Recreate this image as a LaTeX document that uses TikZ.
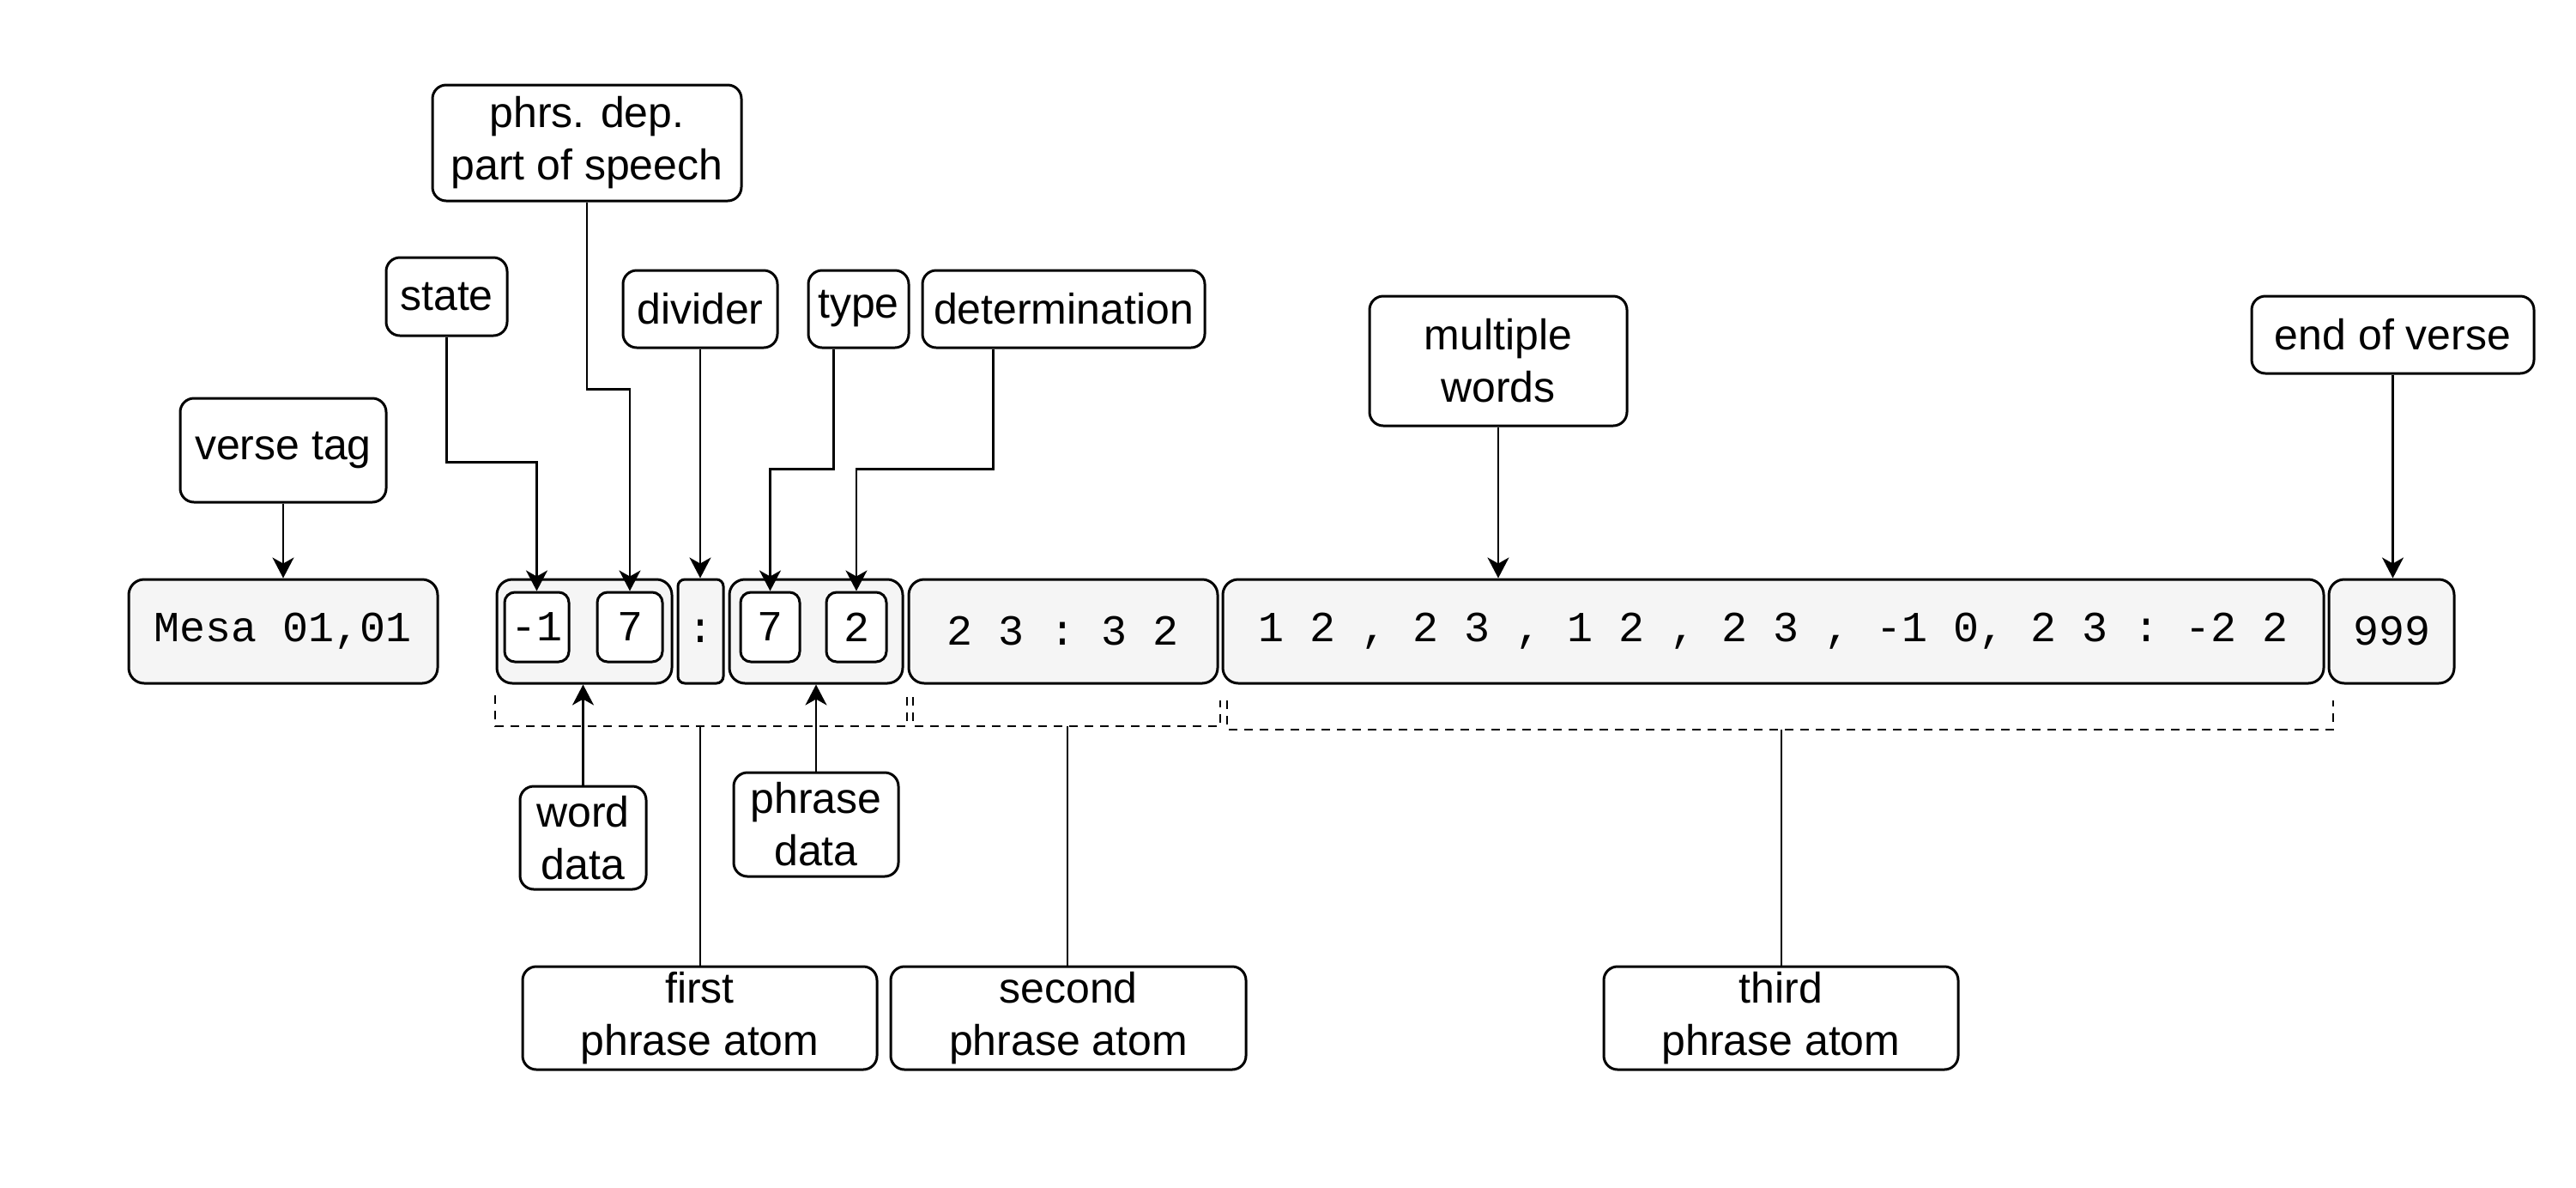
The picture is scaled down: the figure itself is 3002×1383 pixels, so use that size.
\documentclass[tikz,border=0pt]{standalone}
\usepackage{fontspec}
\setmainfont{Liberation Sans}
\setmonofont{Liberation Mono}
\usetikzlibrary{arrows.meta}
\definecolor{boxgray}{HTML}{F5F5F5}
\begin{document}
\begin{tikzpicture}[x=0.5pt,y=-0.5pt,
  lbl/.style={draw, line width=1.5pt, rounded corners=8pt, fill=white, inner sep=0pt, align=center, font=\fontsize{25}{30.5}\selectfont},
  data/.style={draw, line width=1.5pt, rounded corners=9pt, fill=boxgray, inner sep=0pt, minimum height=60.5pt, font=\ttfamily\fontsize{25}{30}\selectfont},
  cell/.style={draw, line width=1.5pt, rounded corners=6pt, fill=white, inner sep=0pt, minimum height=40.5pt, font=\ttfamily\fontsize{25}{30}\selectfont},
  conn/.style={line width=1.2pt},
  arr/.style={conn, -{Stealth[length=12pt,width=12.5pt,inset=3.5pt]}},
  brk/.style={line width=1.2pt, dash pattern=on 5pt off 4pt}
]
\useasboundingbox (0,0) rectangle (3002,1383);

% label boxes
\node[lbl, minimum width=180pt, minimum height=67.5pt] (phrs) at (684,166.5) {phrs. dep.\\part of speech};
\node[lbl, minimum width=70.5pt, minimum height=45.5pt] (state) at (520.5,345.5) {state};
\node[lbl, minimum width=90pt, minimum height=45pt] (divider) at (816,360) {divider};
\node[lbl, minimum width=58.5pt, minimum height=45pt] (type) at (1000.5,360) {type};
\node[lbl, minimum width=164.5pt, minimum height=45pt] (det) at (1239.5,360) {determination};
\node[lbl, minimum width=150pt, minimum height=75.5pt] (mw) at (1746,420.5) {multiple\\words};
\node[lbl, minimum width=164.5pt, minimum height=45pt] (eov) at (2788.5,390) {end of verse};
\node[lbl, minimum width=120pt, minimum height=60.5pt] (vt) at (330,524.5) {verse tag};
\node[lbl, minimum width=73.5pt, minimum height=60pt] (wd) at (679.5,976) {word\\data};
\node[lbl, minimum width=96pt, minimum height=60.5pt] (pd) at (951,960.5) {phrase\\data};
\node[lbl, minimum width=206.5pt, minimum height=60pt] (fpa) at (815.5,1186) {first\\phrase atom};
\node[lbl, minimum width=207pt, minimum height=60pt] (spa) at (1245,1186) {second\\phrase atom};
\node[lbl, minimum width=206.5pt, minimum height=60pt] (tpa) at (2075.5,1186) {third\\phrase atom};

% data boxes
\node[data, minimum width=180pt] (mesa) at (330,735.5) {Mesa 01,01};
\node[data, minimum width=102pt] (wdbox) at (681,735.5) {};
\node[data, minimum width=26.5pt, rounded corners=4pt] (colon) at (816.5,735.5) {:};
\node[data, minimum width=101pt] (pdbox) at (951,735.5) {};
\node[data, minimum width=180pt] (b2) at (1239,735.5) {2 3 : 3 2};
\node[data, minimum width=641.5pt] (b3) at (2066.5,735.5) {1 2 , 2 3 , 1 2 , 2 3 , -1 0, 2 3 : -2 2};
\node[data, minimum width=73pt] (nine) at (2787,735.5) {999};
\node[cell, minimum width=37.5pt] (m1) at (625.5,730.5) {-1};
\node[cell, minimum width=38pt] (m2) at (734,730.5) {7};
\node[cell, minimum width=34.5pt] (m3) at (897.5,730.5) {7};
\node[cell, minimum width=35pt] (m4) at (998,730.5) {2};

% connectors
\draw[arr] (vt.south) -- (mesa.north);
\draw[arr] (state.south) |- ([yshift=75pt]m1.north) -- (m1.north);
\draw[arr] (phrs.south) |- ([yshift=117.5pt]m2.north) -- (m2.north);
\draw[arr] (divider.south) -- (divider.south |- colon.north);
\draw[arr] ([xshift=-14.5pt]type.south) |- ([yshift=71pt]m3.north) -- (m3.north);
\draw[arr] ([xshift=-41pt]det.south) |- ([yshift=71pt]m4.north) -- (m4.north);
\draw[arr] (mw.south) -- (mw.south |- b3.north);
\draw[arr] (eov.south) -- (eov.south |- nine.north);
\draw[arr] (wd.north) -- (wd.north |- wdbox.south);
\draw[arr] (pd.north) -- (pd.north |- pdbox.south);

% brackets
\draw[brk] (577,810) -- (577,846) -- (1057,846) -- (1057,812);
\draw[brk] (1064,812) -- (1064,846) -- (1422,846) -- (1422,816);
\draw[brk] (1430,816) -- (1430,850) -- (2719,850) -- (2719,816);
\coordinate (k1) at (816,846);
\coordinate (k2) at (1244,846);
\coordinate (k3) at (2076,850);
\draw[conn] (k1) -- (k1 |- fpa.north);
\draw[conn] (k2) -- (k2 |- spa.north);
\draw[conn] (k3) -- (k3 |- tpa.north);
\end{tikzpicture}
\end{document}
